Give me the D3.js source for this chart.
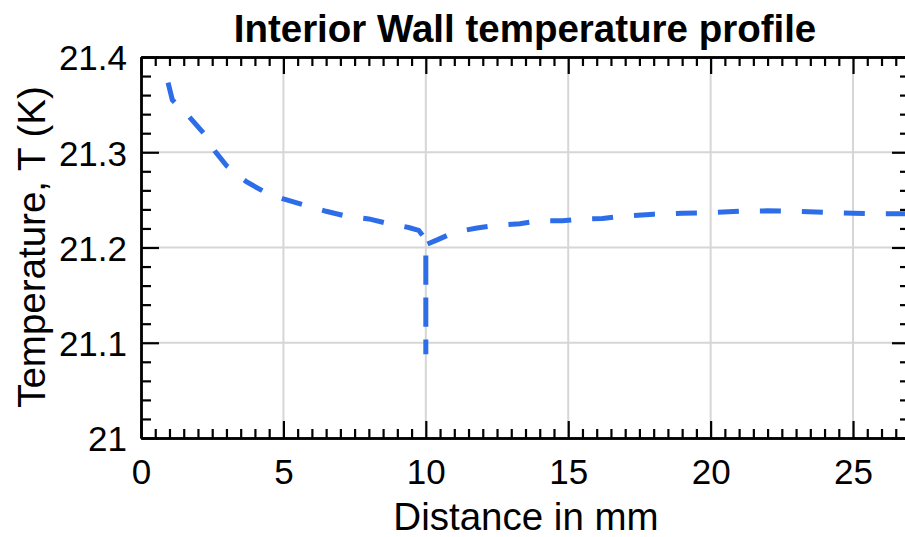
<!DOCTYPE html>
<html lang="en">
<head>
    <meta charset="UTF-8">
    <title>Interior Wall temperature profile</title>
    <script src="https://cdn.jsdelivr.net/npm/d3@7"></script>
    <style>
        body{margin:0;background:#fff;}
        text{font-family:"Liberation Sans",Arial,Helvetica,sans-serif;}
    </style>
</head>
<body>
    <svg></svg>
    <script>
        //distance (mm) and temperature values
        var distance = [0.95, 1.1, 1.3, 1.7, 2.2, 2.6, 3.0, 3.7, 4.3, 5.0, 5.8, 6.5, 7.2, 8.0, 8.7, 9.4, 9.75, 9.9, 10.0, 10.0, 10.0,
            10.4, 11.0, 11.8, 12.5, 13.3, 14.0, 14.8, 15.5, 16.2, 17.0, 18.0, 19.0, 20.0, 21.0, 22.0, 23.0, 24.0, 25.0, 26.0, 27.0];
        var temperature = [21.373, 21.355, 21.349, 21.337, 21.320, 21.301, 21.286, 21.269, 21.259, 21.251, 21.244, 21.238, 21.233, 21.230, 21.225, 21.221, 21.218, 21.212, 21.205, 21.088, 21.203,
            21.208, 21.216, 21.2205, 21.2235, 21.225, 21.228, 21.228, 21.230, 21.2305, 21.233, 21.235, 21.236, 21.2365, 21.238, 21.2385, 21.238, 21.237, 21.236, 21.2355, 21.2355];
        var xTicks = [0, 5, 10, 15, 20, 25];
        var yTicks = [21, 21.1, 21.2, 21.3, 21.4];
        var xDomain = [0, 27];
        var yDomain = [21, 21.4];

        var width = 905, height = 537;
        //note: "top" is taken by window.top, so use plot* names
        var plotLeft = 141, plotRight = 910, plotTop = 57, plotBottom = 438;

        var svg = d3.select("svg").attr("width", width).attr("height", height);

        var x = d3.scaleLinear().domain(xDomain).range([plotLeft, plotRight]);
        var y = d3.scaleLinear().domain(yDomain).range([plotBottom, plotTop]);

        var xMinor = d3.range(0, 54).map(function(i){return i*0.5}).filter(function(v){return v % 5 !== 0});
        var yMinor = d3.range(0, 21).map(function(i){return 21 + i*0.02}).filter(function(v){return Math.round(v*100) % 10 !== 0});

        //grid
        var grid = svg.append("g").attr("stroke", "#d6d6d6").attr("stroke-width", 2);
        grid.selectAll("line.gx").data(xTicks.slice(1)).enter().append("line")
            .attr("x1", function(d){return x(d)}).attr("x2", function(d){return x(d)})
            .attr("y1", plotTop).attr("y2", plotBottom);
        grid.selectAll("line.gy").data(yTicks.slice(1, -1)).enter().append("line")
            .attr("y1", function(d){return y(d)}).attr("y2", function(d){return y(d)})
            .attr("x1", plotLeft).attr("x2", plotRight);

        //data line
        svg.append("clipPath").attr("id", "plot")
            .append("rect").attr("x", plotLeft).attr("y", plotTop).attr("width", plotRight-plotLeft).attr("height", plotBottom-plotTop);
        var pts = distance.map(function(d, i){return [d, temperature[i]]});
        svg.append("path")
            .datum(pts)
            .attr("clip-path", "url(#plot)")
            .attr("fill", "none")
            .attr("stroke", "#2d6ee8")
            .attr("stroke-width", 5)
            .attr("stroke-dasharray", "21,21")
            .attr("d", d3.line().x(function(d){return x(d[0])}).y(function(d){return y(d[1])}));

        //axes
        function styleAxis(g){
            g.attr("font-size", 35).attr("font-family", "Liberation Sans, Arial, sans-serif");
            g.selectAll("line").attr("stroke", "#000").attr("stroke-width", 2.2);
            g.selectAll("path").attr("stroke", "#000").attr("stroke-width", 2.4);
            g.selectAll("text").attr("fill", "#000");
        }
        svg.append("g").attr("transform", "translate(0," + plotBottom + ")")
            .call(d3.axisBottom(x).tickValues(xTicks).tickFormat(d3.format("d")).tickSizeInner(-17).tickSizeOuter(0).tickPadding(21))
            .call(styleAxis);
        svg.append("g").attr("transform", "translate(0," + plotBottom + ")")
            .call(d3.axisBottom(x).tickValues(xMinor).tickFormat("").tickSizeInner(-9).tickSizeOuter(0))
            .call(styleAxis);
        svg.append("g").attr("transform", "translate(0," + plotTop + ")")
            .call(d3.axisTop(x).tickValues(xTicks).tickFormat("").tickSizeInner(-17).tickSizeOuter(0))
            .call(styleAxis);
        svg.append("g").attr("transform", "translate(0," + plotTop + ")")
            .call(d3.axisTop(x).tickValues(xMinor).tickFormat("").tickSizeInner(-9).tickSizeOuter(0))
            .call(styleAxis);
        var yAxis = svg.append("g").attr("transform", "translate(" + plotLeft + ",0)")
            .call(d3.axisLeft(y).tickValues(yTicks).tickFormat(function(d){return d3.format(".1f")(d).replace(".0", "")}).tickSizeInner(-18).tickSizeOuter(0).tickPadding(14))
            .call(styleAxis);
        yAxis.selectAll("text").attr("dy", "0.37em");
        svg.append("g").attr("transform", "translate(" + plotLeft + ",0)")
            .call(d3.axisLeft(y).tickValues(yMinor).tickFormat("").tickSizeInner(-10).tickSizeOuter(0))
            .call(styleAxis);
        svg.append("g").attr("transform", "translate(" + plotRight + ",0)")
            .call(d3.axisRight(y).tickValues(yTicks).tickFormat("").tickSizeInner(-18).tickSizeOuter(0))
            .call(styleAxis);
        svg.append("g").attr("transform", "translate(" + plotRight + ",0)")
            .call(d3.axisRight(y).tickValues(yMinor).tickFormat("").tickSizeInner(-10).tickSizeOuter(0))
            .call(styleAxis);

        //labels
        svg.append("text")
            .attr("x", 525).attr("y", 42)
            .attr("text-anchor", "middle")
            .attr("font-size", 38.5).attr("font-weight", "bold")
            .text("Interior Wall temperature profile");
        svg.append("text")
            .attr("x", 526).attr("y", 530)
            .attr("text-anchor", "middle")
            .attr("font-size", 38.5)
            .text("Distance in mm");
        svg.append("text")
            .attr("transform", "translate(45,247) rotate(-90)")
            .attr("text-anchor", "middle")
            .attr("font-size", 38.5)
            .text("Temperature, T (K)");
    </script>
</body>
</html>
